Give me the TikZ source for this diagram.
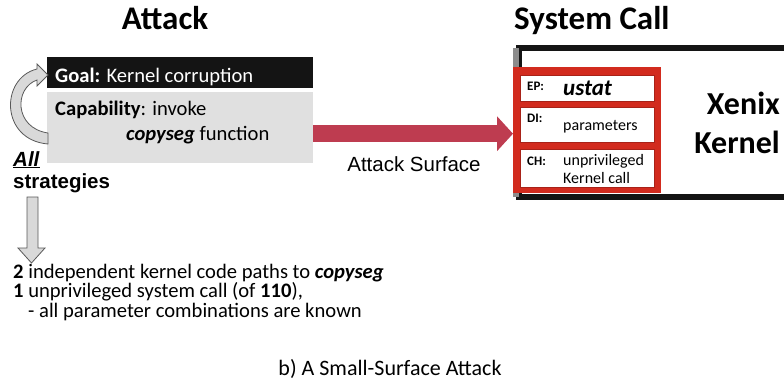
\documentclass[tikz,border=0pt]{standalone}
\usepackage{fontspec}
\setmainfont{Carlito}
\newfontfamily\arialfont{Liberation Sans}
\usetikzlibrary{arrows.meta}
\definecolor{goalblack}{HTML}{141414}
\definecolor{capgray}{HTML}{E0E0E0}
\definecolor{surfred}{HTML}{BE3C50}
\definecolor{framered}{HTML}{D22B1E}
\definecolor{blockgray}{HTML}{D9D9D9}
\newcommand{\fsz}[2]{\fontsize{#1}{#2}\selectfont}

\begin{document}
\begin{tikzpicture}[x=1pt, y=-1pt, >=Stealth,
    title/.style={font=\fsz{33}{38}\bfseries, inner sep=0},
    txt/.style={font=\fsz{20.6}{24}, inner sep=0, anchor=base west},
    arialtxt/.style={font=\arialfont\fsz{20.5}{24}, inner sep=0},
    cell/.style={fill=white, draw=framered!80!black, line width=0.6pt, minimum width=134pt, anchor=north west, inner sep=0},
    tag/.style={font=\fsz{13}{15}\bfseries, inner sep=0, anchor=base west},
    celltxt/.style={font=\fsz{16}{18}, inner sep=0, anchor=base west},
    blockarrow/.style={fill=blockgray, draw=black!65, line width=0.8pt}]
    \useasboundingbox (0,0) rectangle (784,386);

    \node[title, anchor=base] (atktitle) at (165,29.5) {Attack};
    \node[title, anchor=base west] (systitle) at (514,29) {System Call};

    \node[fill=goalblack, minimum width=266pt, minimum height=31pt, anchor=north west, inner sep=0] (goal) at (47,57) {};
    \node[fill=capgray, minimum width=266pt, minimum height=71pt, anchor=north west, inner sep=0] (cap) at (47,92) {};
    \node[txt, text=white] (goaltxt) at (55,82) {\textbf{Goal:} Kernel corruption};
    \node[txt] (captxt) at (55,115) {\textbf{Capability}: invoke};
    \node[txt] (copytxt) at (126,140) {\textbf{\textit{copyseg}} function};

    \path[blockarrow] (48,133) .. controls (14,128) and (14,88) .. (37,80) -- (37,86) -- (48,75) -- (37,64) -- (37,69) .. controls (0,78) and (0,140) .. (48,144) -- cycle;

    \node[arialtxt, font=\arialfont\bfseries\fsz{20.5}{24}, anchor=base west] (all) at (13,166) {\underline{\textit{All}}};
    \node[arialtxt, font=\arialfont\bfseries\fsz{20.5}{24}, anchor=base west] (strat) at (13,188) {strategies};

    \path[blockarrow] (27,197) -- (38,197) -- (38,248) -- (45,248) -- (31.5,263) -- (18,248) -- (27,248) -- cycle;

    \node[txt] (paths) at (13,278.5) {\textbf{2} independent kernel code paths to \textbf{\textit{copyseg}}};
    \node[txt] (unpriv) at (13,297.5) {\textbf{1} unprivileged system call (of \textbf{110}),};
    \node[txt] (known) at (28,317) {- all parameter combinations are known};

    \node[draw=goalblack, line width=6pt, minimum width=300pt, minimum height=149pt, anchor=north west, inner sep=0] (kernel) at (516,45) {};
    \draw[line width=6pt, black!45] ([yshift=-3pt]kernel.north west) -- ([yshift=3pt]kernel.south west);
    \node[font=\fsz{32}{39}\bfseries, align=right, anchor=east, inner sep=0] (xenix) at (780,123) {Xenix\\Kernel};

    \node[fill=framered, minimum width=148pt, minimum height=126pt, anchor=north west, inner sep=0] (frame) at (513,67) {};
    \node[cell, minimum height=26pt] (ep) at (520,75) {};
    \node[cell, minimum height=35pt] (di) at (520,107) {};
    \node[cell, minimum height=38pt] (ch) at (520,149) {};
    \node[tag] (eptag) at (527,90) {EP:};
    \node[celltxt, font=\fsz{23}{26}\bfseries\itshape] (ustat) at (563,95) {ustat};
    \node[tag] (ditag) at (527,122) {DI:};
    \node[celltxt] (param) at (563,130) {parameters};
    \node[tag] (chtag) at (527,165) {CH:};
    \node[celltxt] (unprivcall) at (563,165) {unprivileged};
    \node[celltxt] (kcall) at (563,183) {Kernel call};

    \draw[surfred, line width=17pt, -{Triangle[length=16pt, width=34pt]}] ([yshift=-6pt]cap.east) -- ([yshift=-6pt]cap.east -| frame.west);
    \node[arialtxt, anchor=base] (surflabel) at (414,171) {Attack Surface};

    \node[txt, font=\fsz{22}{26}, anchor=base] (caption) at (390,375) {b) A Small-Surface Attack};
\end{tikzpicture}
\end{document}
